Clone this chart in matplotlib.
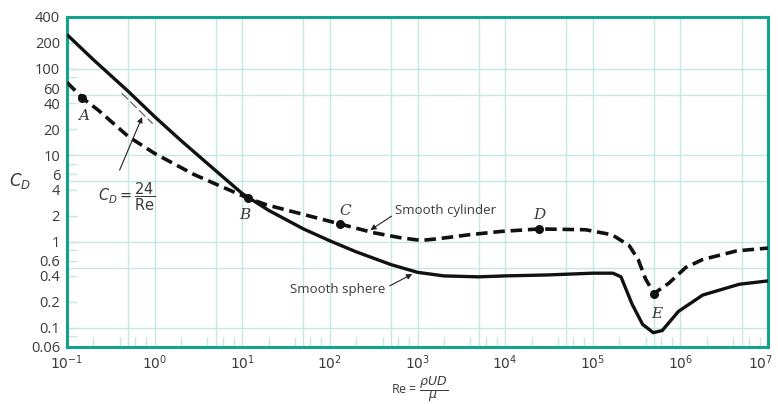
import numpy as np
import matplotlib
matplotlib.use("Agg")
import matplotlib.pyplot as plt
import matplotlib.transforms as mtransforms
from matplotlib.ticker import FixedLocator, NullFormatter

# drag coefficient data
re_sphere = [0.1, 0.2, 0.5, 1, 2, 5, 10, 20, 50, 100, 200, 500, 1000, 2000,
             5000, 1e4, 3e4, 1e5, 1.7e5, 2.1e5, 2.8e5, 3.7e5, 4.9e5, 6.2e5,
             9.5e5, 1.8e6, 4.7e6, 1e7]
cd_sphere = [250, 128, 55, 28, 14.8, 6.6, 3.6, 2.3, 1.4, 1.02, 0.76, 0.54,
             0.44, 0.40, 0.39, 0.40, 0.41, 0.43, 0.43, 0.39, 0.19, 0.11, 0.088,
             0.093, 0.155, 0.24, 0.32, 0.35]

re_cyl = [0.1, 0.15, 0.23, 0.5, 1, 2.8, 5.6, 11.5, 19, 52, 130, 310, 630,
          1100, 1750, 3900, 9000, 2.45e4, 8.3e4, 1.66e5, 2.6e5, 3.3e5, 4e5,
          5e5, 7.4e5, 1.15e6, 1.8e6, 4.4e6, 1e7]
cd_cyl = [70, 46, 33, 16.5, 10.5, 6.0, 4.4, 3.2, 2.66, 2.04, 1.6, 1.27, 1.11,
          1.03, 1.08, 1.2, 1.31, 1.4, 1.37, 1.2, 0.9, 0.62, 0.37, 0.25, 0.33,
          0.5, 0.62, 0.78, 0.84]

# labelled points A..E
pt_names = ["A", "B", "C", "D", "E"]
pt_re = [0.15, 11.5, 130, 2.45e4, 5e5]
pt_cd = [46, 3.2, 1.6, 1.4, 0.25]

# Stokes law segment
re_stokes = [0.42, 0.95]

y_ticks = [400, 200, 100, 60, 40, 20, 10, 6, 4, 2, 1, 0.6, 0.4, 0.2, 0.1, 0.06]
y_labels = ["400", "200", "100", "60", "40", "20", "10", "6", "4", "2", "1",
            "0.6", "0.4", "0.2", "0.1", "0.06"]
x_decades = [-1, 0, 1, 2, 3, 4, 5, 6, 7]

teal = "#12a38a"
grid_c = "#c4e8e1"
txt_c = "#3a3a3a"

plt.rcParams["font.family"] = ["Open Sans", "DejaVu Sans"]
plt.rcParams["mathtext.fontset"] = "dejavusans"

fig = plt.figure(figsize=(7.78, 4.04), dpi=100)
ax = fig.add_axes([67 / 778, 1 - 347 / 404, (768 - 67) / 778, (347 - 17) / 404])
ax.set_xscale("log")
ax.set_yscale("log")
ax.set_xlim(0.1, 1e7)
ax.set_ylim(0.06, 400)

# grid at 1 and 5 of every decade
for d in range(-1, 8):
    for m in (1, 5):
        v = m * 10.0 ** d
        if 0.1 < v < 1e7:
            ax.axvline(v, color=grid_c, lw=1.0, zorder=0)
for d in range(-2, 3):
    for m in (1, 5):
        v = m * 10.0 ** d
        if 0.06 < v < 400:
            ax.axhline(v, color=grid_c, lw=1.0, zorder=0)

for s in ax.spines.values():
    s.set_color(teal)
    s.set_linewidth(2.2)

# x ticks
ax.xaxis.set_major_locator(FixedLocator([10.0 ** d for d in x_decades]))
ax.set_xticklabels([r"$10^{%d}$" % d for d in x_decades])
minor_x = [m * 10.0 ** d for d in range(-1, 7) for m in (2, 4, 6, 8)]
ax.xaxis.set_minor_locator(FixedLocator(minor_x))
ax.xaxis.set_minor_formatter(NullFormatter())
ax.tick_params(axis="x", which="major", direction="in", length=0, pad=5,
               labelsize=10, labelcolor=txt_c)
ax.tick_params(axis="x", which="minor", direction="in", length=7,
               color=grid_c, width=1.0)
# keep the last label inside the picture
last = ax.get_xticklabels()[-1]
last.set_transform(last.get_transform() +
                   mtransforms.ScaledTranslation(-5 / 72, 0, fig.dpi_scale_trans))

# y ticks
ax.yaxis.set_major_locator(FixedLocator(y_ticks))
ax.set_yticklabels(y_labels)
ax.yaxis.set_minor_locator(FixedLocator([80, 8, 0.8, 0.08]))
ax.yaxis.set_minor_formatter(NullFormatter())
ax.tick_params(axis="y", which="both", direction="in", length=7,
               color=grid_c, width=1.0, pad=5, labelsize=10.5, labelcolor=txt_c)

# curves
ax.plot(re_sphere, cd_sphere, color="#111111", lw=2.4, zorder=3,
        solid_capstyle="butt", solid_joinstyle="round")
ax.plot(re_cyl, cd_cyl, color="#111111", lw=2.6, zorder=3,
        dashes=(3.2, 1.6))
re_s = np.array(re_stokes)
ax.plot(re_s, 24 / re_s * 0.92, color="#555555", lw=0.8, dashes=(8, 3), zorder=2)

ax.scatter(pt_re, pt_cd, s=30, color="#111111", zorder=4)
offsets = {"A": (1, -13), "B": (-2, -12), "C": (4, 9), "D": (0, 10), "E": (2, -15)}
for n, r, c in zip(pt_names, pt_re, pt_cd):
    dx, dy = offsets[n]
    ax.annotate(n, (r, c), xytext=(dx, dy), textcoords="offset points",
                ha="center", va="center", fontsize=11, style="italic",
                family="DejaVu Serif", color=txt_c)

# callouts
ax.annotate("Smooth cylinder", xy=(290, 1.36), xytext=(560, 2.26),
            fontsize=9.5, color=txt_c, va="center", ha="left",
            arrowprops=dict(arrowstyle="-|>", color="#222222", lw=0.8,
                            mutation_scale=8, shrinkA=1, shrinkB=0,
                            relpos=(0.0, 0.3)))
ax.annotate("Smooth sphere", xy=(870, 0.42), xytext=(124, 0.28),
            fontsize=9.5, color=txt_c, va="center", ha="center",
            arrowprops=dict(arrowstyle="-|>", color="#222222", lw=0.8,
                            mutation_scale=8, shrinkA=1, shrinkB=0,
                            relpos=(1.0, 0.6)))
ax.annotate(r"$C_D = \dfrac{24}{\mathrm{Re}}$", xy=(0.72, 27.7), xytext=(0.48, 3.3),
            fontsize=10.5, color=txt_c, va="center", ha="center",
            arrowprops=dict(arrowstyle="-|>", color="#222222", lw=0.8,
                            mutation_scale=8, shrinkA=6, shrinkB=0,
                            relpos=(0.3, 1.0)))

fig.text(20 / 778, 1 - 181 / 404, r"$C_D$", fontsize=12, color=txt_c,
         ha="center", va="center", family="DejaVu Serif")
fig.text(420 / 778, 1 - 389 / 404, r"Re = $\dfrac{\rho U D}{\mu}$", fontsize=9,
         color=txt_c, ha="center", va="center")

fig.savefig("out.png", dpi=100)
